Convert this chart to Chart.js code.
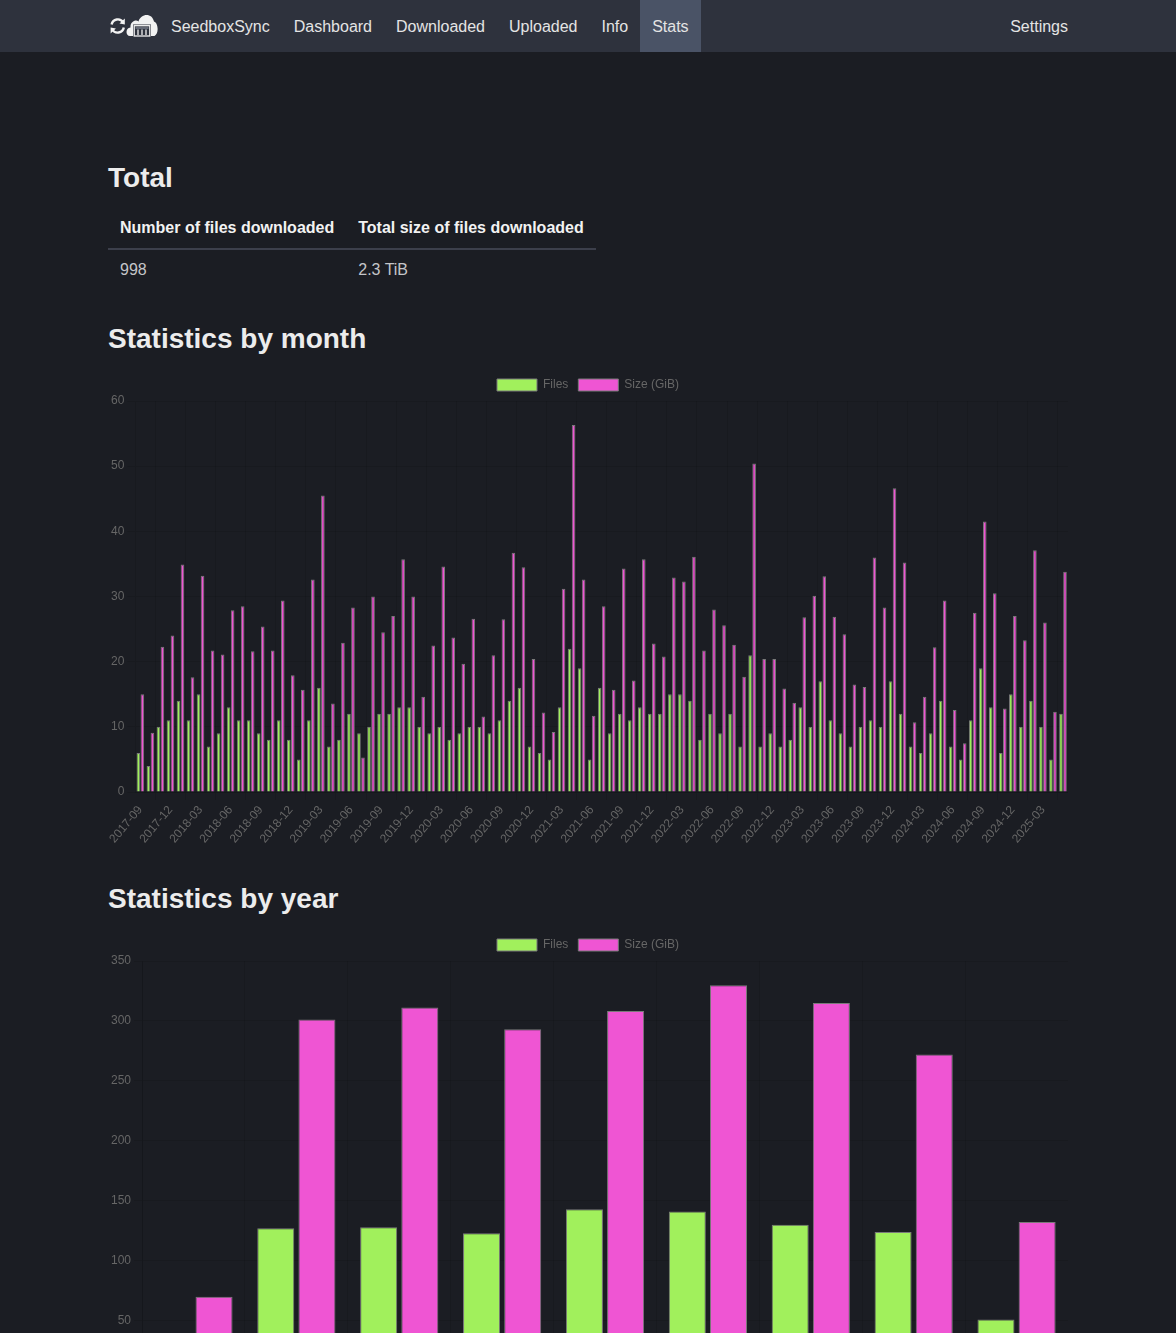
<!DOCTYPE html>
<html>
<head>
<meta charset="utf-8">
<title>SeedboxSync - Stats</title>
<script src="https://cdn.jsdelivr.net/npm/chart.js@4/dist/chart.umd.min.js"></script>
<style>
    body {
        margin: 0;
        background: #1b1d23;
        color: #ececec;
        font-family: "Liberation Sans", Arial, Helvetica, sans-serif;
    }
    .navbar {
        height: 52px;
        background: #2e323d;
    }
    .navbar .inner {
        width: 984px;
        margin: 0 auto;
        display: flex;
        height: 52px;
        align-items: stretch;
    }
    .navbar .item {
        padding: 0 12px;
        height: 52px;
        font-size: 16px;
        color: #e4e4e4;
        display: flex;
        align-items: center;
    }
    .navbar .item span { position: relative; top: 1px; }
    .navbar .item.active { background: #4a5366; }
    .navbar .logo { padding-right: 1px; }
    .navbar .spacer { flex: 1; }
    .page {
        position: relative;
        width: 960px;
        margin: 1px auto 0;
        height: 1280px;
    }
    h3 {
        position: absolute;
        left: 0;
        margin: 0;
        font-size: 28px;
        line-height: 34px;
        font-weight: bold;
        color: #ececec;
    }
    table {
        position: absolute;
        left: 0;
        top: 155px;
        border-collapse: collapse;
        font-size: 16px;
        line-height: 24px;
    }
    th, td {
        padding: 8px 12px;
        text-align: left;
    }
    th {
        color: #f2f2f2;
        border-bottom: 2px solid #3c3f4b;
    }
    td { color: #c4c5c9; }
    .chart-box {
        position: absolute;
        left: 0;
        width: 960px;
        height: 480px;
    }
</style>
</head>
<body>
<div class="navbar">
    <div class="inner">
        <div class="item logo">
            <svg width="50" height="28" viewBox="0 0 50 28">
                <g fill="none" stroke="#f2f2f2" stroke-width="2.4">
                    <path d="M15.2 10.5 A6.3 6.3 0 0 0 3.6 12.5"/>
                    <path d="M4.2 17.5 A6.3 6.3 0 0 0 15.8 15.5"/>
                </g>
                <path d="M16.8 6.5 L16.8 12.5 L11.5 11.5 Z" fill="#f2f2f2"/>
                <path d="M2.6 21.5 L2.6 15.5 L7.9 16.5 Z" fill="#f2f2f2"/>
                <path d="M22 24 C17.5 24 17 16 22.5 15.5 C22 9.5 28 7 30.5 9.5 C32.5 1.5 44 0 46 9.5 C50.5 11 51 22 46.5 24 Z" fill="#f2f2f2"/>
                <rect x="25" y="12.5" width="18" height="12" fill="#2e323d"/>
                <rect x="26.2" y="13.7" width="15.6" height="10.3" fill="none" stroke="#f2f2f2" stroke-width="1.3"/>
                <line x1="27.5" y1="16" x2="40.5" y2="16" stroke="#9aa0ad" stroke-width="1"/>
                <g stroke="#f2f2f2" stroke-width="1.3">
                    <line x1="30" y1="17.5" x2="30" y2="23"/>
                    <line x1="34" y1="17.5" x2="34" y2="23"/>
                    <line x1="38" y1="17.5" x2="38" y2="23"/>
                </g>
            </svg>
        </div>
        <div class="item"><span>SeedboxSync</span></div>
        <div class="item"><span>Dashboard</span></div>
        <div class="item"><span>Downloaded</span></div>
        <div class="item"><span>Uploaded</span></div>
        <div class="item"><span>Info</span></div>
        <div class="item active"><span>Stats</span></div>
        <div class="spacer"></div>
        <div class="item"><span>Settings</span></div>
    </div>
</div>

<div class="page">
    <h3 style="top:108px">Total</h3>
    <table>
        <thead>
            <tr><th>Number of files downloaded</th><th>Total size of files downloaded</th></tr>
        </thead>
        <tbody>
            <tr><td>998</td><td>2.3 TiB</td></tr>
        </tbody>
    </table>

    <h3 style="top:269px">Statistics by month</h3>
    <div class="chart-box" style="top:316px"><canvas id="monthChart"></canvas></div>

    <h3 style="top:829px">Statistics by year</h3>
    <div class="chart-box" style="top:876px"><canvas id="yearChart"></canvas></div>
</div>

<script>
// Monthly values
const months = [
    '2017-09', '2017-10', '2017-11', '2017-12',
    '2018-01', '2018-02', '2018-03', '2018-04', '2018-05', '2018-06', '2018-07', '2018-08', '2018-09', '2018-10', '2018-11', '2018-12',
    '2019-01', '2019-02', '2019-03', '2019-04', '2019-05', '2019-06', '2019-07', '2019-08', '2019-09', '2019-10', '2019-11', '2019-12',
    '2020-01', '2020-02', '2020-03', '2020-04', '2020-05', '2020-06', '2020-07', '2020-08', '2020-09', '2020-10', '2020-11', '2020-12',
    '2021-01', '2021-02', '2021-03', '2021-04', '2021-05', '2021-06', '2021-07', '2021-08', '2021-09', '2021-10', '2021-11', '2021-12',
    '2022-01', '2022-02', '2022-03', '2022-04', '2022-05', '2022-06', '2022-07', '2022-08', '2022-09', '2022-10', '2022-11', '2022-12',
    '2023-01', '2023-02', '2023-03', '2023-04', '2023-05', '2023-06', '2023-07', '2023-08', '2023-09', '2023-10', '2023-11', '2023-12',
    '2024-01', '2024-02', '2024-03', '2024-04', '2024-05', '2024-06', '2024-07', '2024-08', '2024-09', '2024-10', '2024-11', '2024-12',
    '2025-01', '2025-02', '2025-03', '2025-04', '2025-05'
];
const monthFiles = [
    6, 4, 10, 11,
    14, 11, 15, 7, 9, 13, 11, 11, 9, 8, 11, 8,
    5, 11, 16, 7, 8, 12, 9, 10, 12, 12, 13, 13,
    10, 9, 10, 8, 9, 10, 10, 9, 11, 14, 16, 7,
    6, 5, 13, 22, 19, 5, 16, 9, 12, 11, 13, 12,
    12, 15, 15, 14, 8, 12, 9, 12, 7, 21, 7, 9,
    7, 8, 13, 10, 17, 11, 9, 7, 10, 11, 10, 17,
    12, 7, 6, 9, 14, 7, 5, 11, 19, 13, 6, 15,
    10, 14, 10, 5, 12
];
const monthSizes = [
    15.0, 9.1, 22.3, 24.0,
    34.9, 17.6, 33.2, 21.7, 21.1, 27.9, 28.5, 21.6, 25.4, 21.7, 29.4, 17.9,
    15.7, 32.6, 45.5, 13.6, 22.9, 28.3, 5.3, 30.0, 24.5, 27.0, 35.7, 30.0,
    14.6, 22.5, 34.6, 23.7, 19.7, 26.6, 11.6, 21.0, 26.5, 36.7, 34.5, 20.4,
    12.2, 9.2, 31.2, 56.3, 32.6, 11.7, 28.5, 15.7, 34.3, 17.1, 35.7, 22.8,
    20.8, 32.9, 32.3, 36.1, 21.7, 28.0, 25.6, 22.6, 17.7, 50.4, 20.4, 20.4,
    15.9, 13.7, 26.8, 30.1, 33.1, 26.9, 24.2, 16.5, 16.1, 36.0, 28.3, 46.6,
    35.2, 10.7, 14.6, 22.2, 29.4, 12.6, 7.5, 27.5, 41.5, 30.5, 12.8, 27.0,
    23.3, 37.1, 26.0, 12.3, 33.8
];

// Yearly values
const years = ['2017', '2018', '2019', '2020', '2021', '2022', '2023', '2024', '2025'];
const yearFiles = [31, 127, 128, 123, 143, 141, 130, 124, 51];
const yearSizes = [70.0, 301.3, 311.3, 293.0, 308.3, 329.7, 314.9, 272.1, 132.3];

const filesColor = 'rgb(161, 240, 92)';
const sizeColor = 'rgb(239, 85, 211)';
const barBorder = 'rgb(122, 122, 122)';

function makeChart(id, labels, files, sizes) {
    const ctx = document.getElementById(id);
    return new Chart(ctx, {
        type: 'bar',
        data: {
            labels: labels,
            datasets: [{
                label: 'Files',
                data: files,
                backgroundColor: filesColor,
                borderColor: barBorder,
                borderWidth: 1
            }, {
                label: 'Size (GiB)',
                data: sizes,
                backgroundColor: sizeColor,
                borderColor: barBorder,
                borderWidth: 1
            }]
        },
        options: {
            responsive: true,
            maintainAspectRatio: false,
            animation: false,
            scales: {
                y: {
                    beginAtZero: true
                }
            }
        }
    });
}

makeChart('monthChart', months, monthFiles, monthSizes);
makeChart('yearChart', years, yearFiles, yearSizes);
</script>
</body>
</html>
